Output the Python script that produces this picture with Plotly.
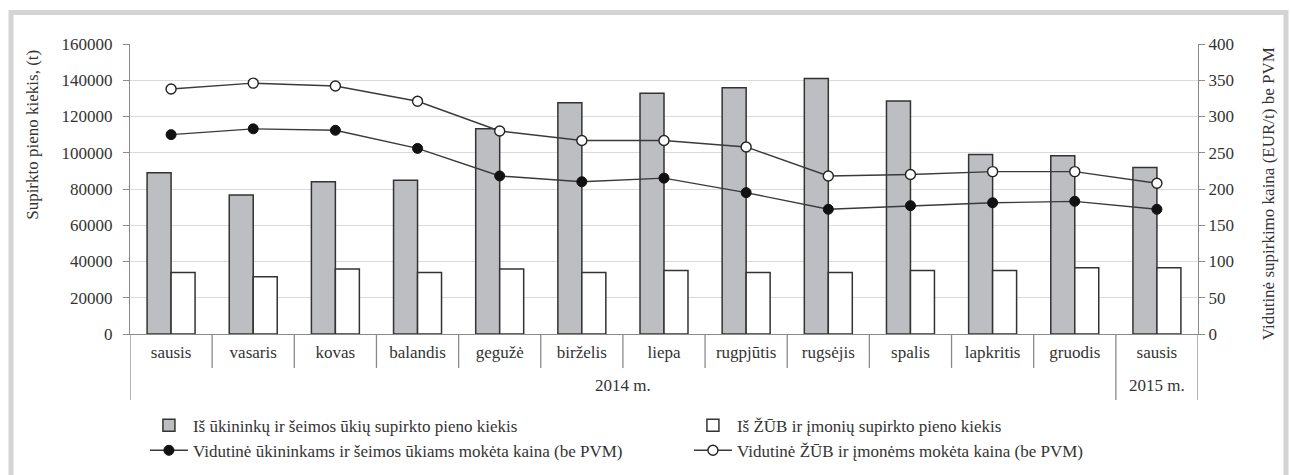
import plotly.graph_objects as go

months = ["sausis", "vasaris", "kovas", "balandis", "gegužė", "birželis", "liepa",
          "rugpjūtis", "rugsėjis", "spalis", "lapkritis", "gruodis", "sausis"]
years = ["2014 m."] * 12 + ["2015 m."]

farm_qty = [89000, 76700, 84000, 84800, 113300, 127600, 132800, 135900, 140900, 128600, 99100, 98400, 91800]
company_qty = [34000, 31600, 35900, 34000, 35900, 34000, 35100, 34000, 34000, 35100, 35100, 36600, 36600]
farm_price = [275, 283, 281, 256, 218, 210, 215, 195, 172, 177, 181, 183, 172]
company_price = [338, 346, 342, 321, 280, 267, 267, 258, 218, 220, 224, 224, 208]

names = [
    "Iš ūkininkų ir šeimos ūkių supirkto pieno kiekis",
    "Iš ŽŪB ir įmonių supirkto pieno kiekis",
    "Vidutinė ūkininkams ir šeimos ūkiams mokėta kaina (be PVM)",
    "Vidutinė ŽŪB ir įmonėms mokėta kaina (be PVM)",
]

FONT = "Liberation Serif, DejaVu Serif, Times New Roman, serif"
FS = 17
TXT = "#333333"
AX = "#8a8a8a"

keys = [f"{m} {y}" for m, y in zip(months, years)]
n = len(months)

fig = go.Figure()
fig.add_trace(go.Bar(x=keys, y=farm_qty, name=names[0],
                     marker=dict(color="#bdbec1", line=dict(color="#333333", width=1.5))))
fig.add_trace(go.Bar(x=keys, y=company_qty, name=names[1],
                     marker=dict(color="#ffffff", line=dict(color="#333333", width=1.5))))
fig.add_trace(go.Scatter(x=keys, y=farm_price, name=names[2], yaxis="y2", mode="lines+markers",
                         line=dict(color="#3a3a3a", width=1.4),
                         marker=dict(symbol="circle", size=10, color="#111111",
                                     line=dict(color="#111111", width=1))))
fig.add_trace(go.Scatter(x=keys, y=company_price, name=names[3], yaxis="y2", mode="lines+markers",
                         line=dict(color="#3a3a3a", width=1.4),
                         marker=dict(symbol="circle", size=10, color="#ffffff",
                                     line=dict(color="#222222", width=1.4))))

fig.update_layout(
    width=1290, height=475,
    margin=dict(l=130, r=92, t=44, b=141, autoexpand=False),
    paper_bgcolor="white", plot_bgcolor="white",
    font=dict(family=FONT, size=FS, color=TXT),
    barmode="group", bargap=0.416, bargroupgap=0,
    showlegend=True,
    legend=dict(orientation="h", x=-0.001, y=-0.254, xanchor="left", yanchor="top",
                entrywidth=475, entrywidthmode="pixels", traceorder="normal",
                font=dict(family=FONT, size=FS, color=TXT), itemwidth=38,
                tracegroupgap=0, bgcolor="rgba(0,0,0,0)", indentation=16),
    xaxis=dict(type="category", categoryorder="array", categoryarray=keys,
               range=[-0.5, n - 0.5],
               tickmode="array", tickvals=keys, ticktext=months,
               showgrid=False, ticks="outside", ticklen=2, tickcolor="rgba(0,0,0,0)",
               showline=True, linecolor=AX, linewidth=1.3,
               tickfont=dict(family=FONT, size=FS, color=TXT)),
    yaxis=dict(range=[0, 160000], dtick=20000, showgrid=True, gridcolor="#dadada",
               gridwidth=1.3, showline=True, linecolor=AX, linewidth=1.3,
               ticks="outside", ticklen=6, tickcolor=AX, zeroline=False,
               ticklabelstandoff=7,
               tickformat="d", tickfont=dict(family=FONT, size=FS, color=TXT)),
    yaxis2=dict(range=[0, 400], dtick=50, overlaying="y", side="right", showgrid=False,
                showline=True, linecolor=AX, linewidth=1.3, ticks="outside",
                ticklen=6, tickcolor=AX, zeroline=False,
                tickfont=dict(family=FONT, size=FS, color=TXT)),
)

# category dividers (short between months, long at year boundaries / edges)
for b in range(n + 1):
    long_div = b == 0 or b == n or years[b] != years[b - 1]
    fig.add_shape(type="line", xref="x", yref="paper", x0=b - 0.5, x1=b - 0.5,
                  y0=0, y1=-0.228 if long_div else -0.117,
                  line=dict(color=AX, width=1.3))

# year group labels
groups = {}
for i, y in enumerate(years):
    groups.setdefault(y, []).append(i)
for y, idx in groups.items():
    fig.add_annotation(xref="x", yref="paper", x=sum(idx) / len(idx), y=-0.179,
                       xanchor="center", yanchor="middle", text=y, showarrow=False,
                       font=dict(family=FONT, size=FS, color=TXT))

fig.add_annotation(xref="paper", yref="paper", x=-0.092, y=0.986, xanchor="center", yanchor="top",
                   text="Supirkto pieno kiekis, (t)", textangle=-90, showarrow=False,
                   font=dict(family=FONT, size=FS, color=TXT))
fig.add_annotation(xref="paper", yref="paper", x=1.0655, y=0.997, xanchor="center", yanchor="top",
                   text="Vidutinė supirkimo kaina (EUR/t) be PVM", textangle=-90, showarrow=False,
                   font=dict(family=FONT, size=FS, color=TXT))

fig.add_shape(type="rect", xref="paper", yref="paper", x0=-0.1114, x1=1.0824, y0=-0.6, y1=1.1086,
              line=dict(color="#d4d4d4", width=5), fillcolor="rgba(0,0,0,0)", layer="below")

fig.write_html("out.html", config={"displayModeBar": False},
               post_script="document.body.style.margin='0';")
